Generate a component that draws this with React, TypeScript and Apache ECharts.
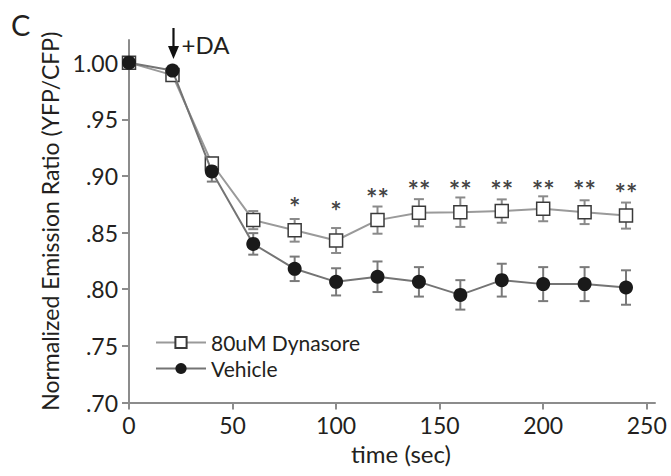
import React, { useEffect, useRef } from "react";
import * as echarts from "echarts";

const timeSec = [0, 21, 40, 60, 80, 100, 120, 140, 160, 180, 200, 220, 240];
const dynasore = [1.0, 0.989, 0.911, 0.861, 0.852, 0.843, 0.861, 0.8675, 0.868, 0.869, 0.871, 0.868, 0.865];
const dynasoreErr = [0.003, 0.004, 0.005, 0.008, 0.01, 0.011, 0.012, 0.012, 0.013, 0.0103, 0.011, 0.0105, 0.0115];
const vehicle = [1.0, 0.993, 0.904, 0.84, 0.818, 0.8065, 0.811, 0.8065, 0.795, 0.808, 0.8045, 0.8045, 0.8015];
const vehicleErr = [0.003, 0.003, 0.009, 0.0095, 0.0108, 0.012, 0.0135, 0.013, 0.013, 0.0145, 0.015, 0.015, 0.0152];

const sigTimes = [80, 100, 120, 140, 160, 180, 200, 220, 240];
const sigMarks = ["*", "*", "**", "**", "**", "**", "**", "**", "**"];
const sigY = [0.879, 0.876, 0.887, 0.894, 0.894, 0.894, 0.894, 0.894, 0.892];

const xTicks = [0, 50, 100, 150, 200, 250];
const yTicks = [0.7, 0.75, 0.8, 0.85, 0.9, 0.95, 1.0];

const seriesNames = ["80uM Dynasore", "Vehicle"];
const FONT = "Lato";
const TXT = "#231f20";
const AXIS = "#8c8c8c";

function errData(vals: number[], errs: number[]) {
  return timeSec.map((t, i) => [t, vals[i] - errs[i], vals[i] + errs[i]]);
}

const errRender = (color: string) => (params: any, api: any) => {
  const x = api.value(0);
  const lo = api.coord([x, api.value(1)]);
  const hi = api.coord([x, api.value(2)]);
  const w = 5;
  const style = { stroke: color, lineWidth: 2 };
  return {
    type: "group",
    children: [
      { type: "line", shape: { x1: lo[0], y1: lo[1], x2: hi[0], y2: hi[1] }, style },
      { type: "line", shape: { x1: hi[0] - w, y1: hi[1], x2: hi[0] + w, y2: hi[1] }, style },
      { type: "line", shape: { x1: lo[0] - w, y1: lo[1], x2: lo[0] + w, y2: lo[1] }, style },
    ],
  };
};

export default function App() {
  const ref = useRef<HTMLDivElement>(null);
  useEffect(() => {
    if (!ref.current) return;
    const chart = echarts.init(ref.current, undefined, { renderer: "svg" });
    const fmtY = (v: number) => (Math.abs(v - 1) < 1e-9 ? "1.00" : v.toFixed(2).replace(/^0/, ""));
    chart.setOption({
      animation: false,
      backgroundColor: "#fff",
      textStyle: { fontFamily: FONT, color: TXT },
      grid: { left: 129, right: 16, top: 40, bottom: 73.5, containLabel: false },
      legend: {
        data: seriesNames,
        orient: "vertical",
        left: 155,
        top: 332,
        itemWidth: 50,
        itemHeight: 14,
        itemGap: 5,
        padding: 0,
        textStyle: { fontFamily: FONT, fontSize: 21, color: TXT },
      },
      xAxis: {
        type: "value",
        min: 0,
        max: 254,
        name: "time (sec)",
        nameLocation: "middle",
        nameGap: 38,
        nameTextStyle: { fontFamily: FONT, fontSize: 24, color: TXT, padding: [0, 0, 0, 18] },
        axisLine: { show: true, onZero: false, lineStyle: { color: AXIS, width: 2 } },
        axisTick: { show: true, length: 7, customValues: xTicks, lineStyle: { color: AXIS, width: 2 } },
        axisLabel: { customValues: xTicks, margin: 11, fontFamily: FONT, fontSize: 23, color: TXT },
        splitLine: { show: false },
      },
      yAxis: {
        type: "value",
        min: 0.7,
        max: 1.02,
        name: "Normalized Emission Ratio (YFP/CFP)",
        nameLocation: "middle",
        nameGap: 60,
        nameTextStyle: { fontFamily: FONT, fontSize: 23, color: TXT, padding: [0, 0, 0, 0] },
        axisLine: { show: true, onZero: false, lineStyle: { color: AXIS, width: 2 } },
        axisTick: { show: true, length: 7, customValues: yTicks, lineStyle: { color: AXIS, width: 2 } },
        axisLabel: { customValues: yTicks, margin: 11, formatter: fmtY, fontFamily: FONT, fontSize: 23, color: TXT },
        splitLine: { show: false },
      },
      series: [
        {
          type: "custom",
          name: "dynErr",
          renderItem: errRender("#8a8a8a"),
          data: errData(dynasore, dynasoreErr),
          encode: { x: 0, y: [1, 2] },
          z: 1,
          silent: true,
        },
        {
          type: "custom",
          name: "vehErr",
          renderItem: errRender("#7a7a7a"),
          data: errData(vehicle, vehicleErr),
          encode: { x: 0, y: [1, 2] },
          z: 1,
          silent: true,
        },
        {
          type: "line",
          name: seriesNames[0],
          data: timeSec.map((t, i) => [t, dynasore[i]]),
          symbol: "rect",
          symbolSize: 13,
          lineStyle: { color: "#9a9a9a", width: 2 },
          itemStyle: { color: "#ffffff", borderColor: "#3a3a3a", borderWidth: 1.5 },
          z: 2,
        },
        {
          type: "line",
          name: seriesNames[1],
          data: timeSec.map((t, i) => [t, vehicle[i]]),
          symbol: "circle",
          symbolSize: 14,
          lineStyle: { color: "#747474", width: 2 },
          itemStyle: { color: "#1a1a1a", borderWidth: 0 },
          z: 3,
        },
        {
          type: "scatter",
          name: "sig",
          data: sigTimes.map((t, i) => [t, sigY[i]]),
          symbolSize: 0,
          silent: true,
          label: {
            show: true,
            position: "inside",
            formatter: (p: any) => sigMarks[p.dataIndex],
            fontFamily: FONT,
            fontSize: 27,
            fontWeight: "bold",
            color: "#111",
            offset: [0, 7],
          },
          z: 4,
        },
      ],
    });
    const p = chart.convertToPixel({ gridIndex: 0 }, [timeSec[1], 1.0]) as number[];
    const ax = p[0] + 1;
    chart.setOption({
      graphic: [
        {
          type: "text",
          left: 11,
          top: 10,
          style: { text: "C", fontFamily: FONT, fontSize: 29, fill: TXT },
        },
        {
          type: "line",
          shape: { x1: ax, y1: 28, x2: ax, y2: 50 },
          style: { stroke: "#111", lineWidth: 2.2 },
        },
        {
          type: "polygon",
          shape: { points: [[ax - 5.5, 46], [ax + 5.5, 46], [ax, 59]] },
          style: { fill: "#111" },
        },
        {
          type: "text",
          x: ax + 8,
          y: 44,
          style: { text: "+DA", fontFamily: FONT, fontSize: 24, fill: TXT, verticalAlign: "middle" },
        },
      ],
    });
    return () => chart.dispose();
  }, []);
  return (
    <div
      ref={ref}
      style={{ position: "absolute", left: 0, top: 0, width: 671, height: 476, background: "#fff" }}
    />
  );
}
